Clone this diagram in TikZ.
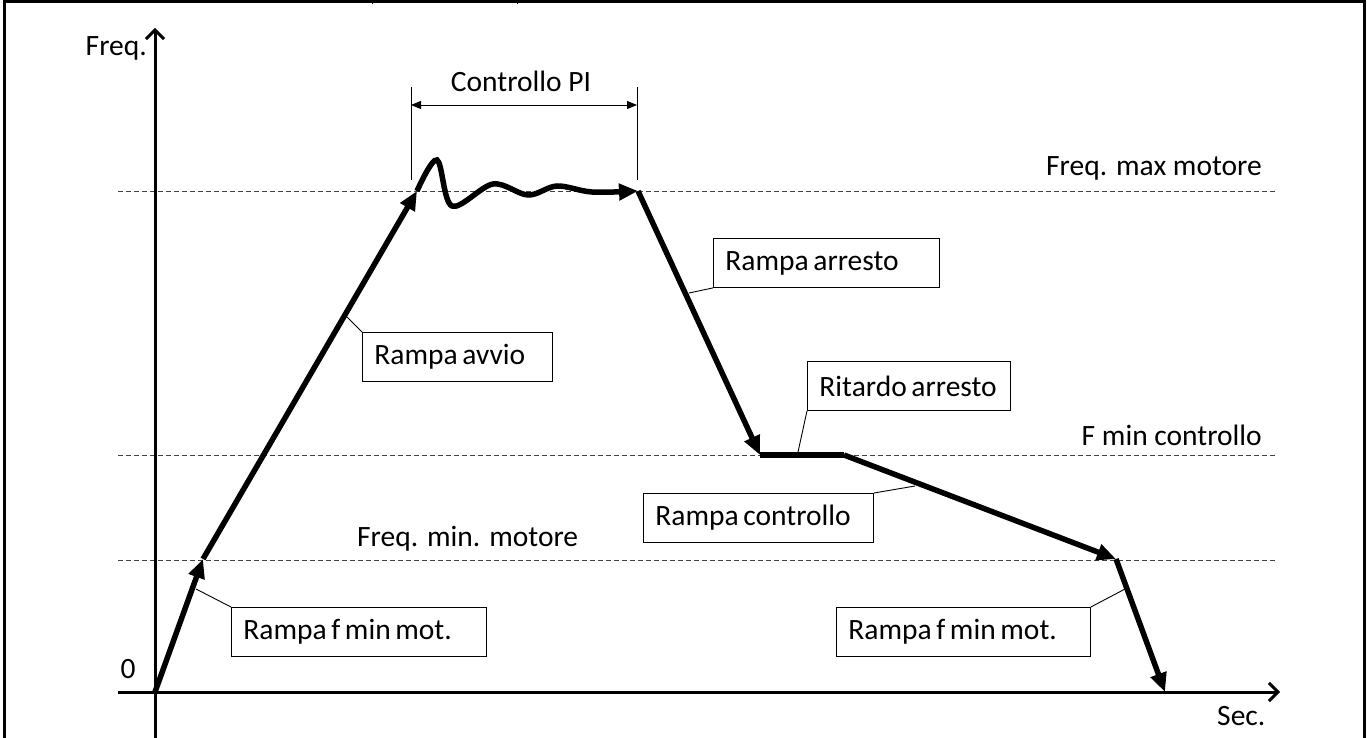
\documentclass[tikz,border=0pt]{standalone}
\usepackage{fontspec}
\setmainfont{Carlito}
\usetikzlibrary{arrows.meta}
\newcommand{\boxtxt}[2]{\makebox[#1pt][l]{\spaceskip=4.6pt plus 1pt\relax #2}}
\begin{document}
\begin{tikzpicture}[x=1pt,y=-1pt,
  font=\fontsize{29.5}{34}\selectfont,
  frame/.style={line width=3pt},
  axis/.style={line width=3pt,-{Straight Barb[length=9pt,width=18pt,line width=3pt]}},
  curveseg/.style={line width=5.5pt,-{Triangle[length=19pt,width=16pt]}},
  flatseg/.style={line width=5.5pt},
  guide/.style={line width=0.9pt,black!75,dash pattern=on 4.5pt off 3.5pt},
  thinline/.style={line width=0.9pt},
  dimarrow/.style={line width=0.9pt,{Triangle[length=10pt,width=8pt]}-{Triangle[length=10pt,width=8pt]}},
  lbox/.style={draw,line width=0.9pt,inner xsep=12pt,inner ysep=0pt,minimum height=49pt,anchor=north west},
  plain/.style={inner sep=0pt}]
\useasboundingbox (0,0) rectangle (1367,738);
% frame
\draw[frame] (4,740) -- (4,2) -- (1364,2) -- (1364,740);
\draw[thinline] (372,0) -- (372,4);
\draw[thinline] (517,0) -- (517,4);
% guide lines
\coordinate (gmaxL) at (118,191); \coordinate (gmaxR) at (1278,191);
\coordinate (gctlL) at (118,455); \coordinate (gctlR) at (1278,455);
\coordinate (gminL) at (118,560); \coordinate (gminR) at (1278,560);
\draw[guide] (gmaxL) -- (gmaxR);
\draw[guide] (gctlL) -- (gctlR);
\draw[guide] (gminL) -- (gminR);
% axes
\coordinate (ybot) at (155,740); \coordinate (ytop) at (155,28);
\coordinate (xleft) at (118,692); \coordinate (xright) at (1280,692);
\draw[axis] (ybot) -- (ytop);
\draw[axis] (xleft) -- (xright);
\node[plain,anchor=base east] (freq) at (147,56) {Freq.};
\node[plain,anchor=base] (zero) at (128,678) {0};
\node[plain,anchor=base west] (sec) at (1217,725) {Sec.};
% guide labels
\node[plain,anchor=base east] (lmax) at (1262,176) {Freq. max motore};
\node[plain,anchor=base east] (lctl) at (1262,445) {F min controllo};
\node[plain,anchor=base west] (lmin) at (357,546) {Freq. min. motore};
% PI dimension
\coordinate (d1b) at (411,180); \coordinate (d1t) at (411,87);
\coordinate (d2b) at (637,180); \coordinate (d2t) at (637,87);
\coordinate (da) at (411,105); \coordinate (db) at (637,105);
\draw[thinline] (d1b) -- (d1t);
\draw[thinline] (d2b) -- (d2t);
\draw[dimarrow] (da) -- (db);
\node[plain,anchor=base] (pi) at (521,92) {Controllo PI};
% curve points
\coordinate (p0) at (155,692);
\coordinate (p1) at (203,559);
\coordinate (p2) at (417,191);
\coordinate (p3) at (638,191);
\coordinate (p4) at (760,455);
\coordinate (p5) at (844,455);
\coordinate (p6) at (1116,559);
\coordinate (p7) at (1165,692);
\draw[curveseg] (p0) -- (p1);
\draw[curveseg] (p1) -- (p2);
\draw[curveseg] plot[smooth,tension=0.55] coordinates {(p2) (437,160) (452,206) (493,184) (528,195) (557,186) (592,192) (p3)};
\draw[curveseg] (p3) -- (p4);
\draw[flatseg] (p4) -- (p5);
\draw[curveseg] (p5) -- (p6);
\draw[curveseg] (p6) -- (p7);
% labelled boxes
\node[lbox] (b1) at (231,607) {\boxtxt{231}{Rampa f min mot.}};
\node[lbox] (b2) at (362,332) {\boxtxt{166}{Rampa avvio}};
\node[lbox] (b3) at (713,238) {\boxtxt{202}{Rampa arresto}};
\node[lbox] (b4) at (807,361) {\boxtxt{179}{Ritardo arresto}};
\node[lbox] (b5) at (643,493) {\boxtxt{206}{Rampa controllo}};
\node[lbox] (b6) at (836,607) {\boxtxt{230}{Rampa f min mot.}};
\coordinate (l1) at (196,589);
\coordinate (l2) at (347,317);
\coordinate (l3) at (689,293);
\coordinate (l4) at (798,452);
\coordinate (l5) at (915,486);
\coordinate (l6) at (1125,589);
\draw[thinline] (b1.north west) -- (l1);
\draw[thinline] (b2.north west) -- (l2);
\draw[thinline] (b3.south west) -- (l3);
\draw[thinline] (b4.south west) -- (l4);
\draw[thinline] (b5.north east) -- (l5);
\draw[thinline] (b6.north east) -- (l6);
\end{tikzpicture}
\end{document}
